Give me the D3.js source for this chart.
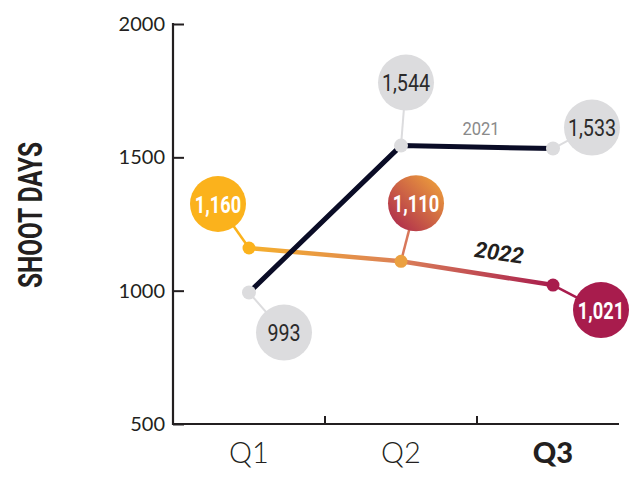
<!DOCTYPE html>
<html>
<head>
<meta charset="utf-8">
<script src="https://cdn.jsdelivr.net/npm/d3@7"></script>
<style>
  body { margin: 0; background: #fff; }
  svg { display: block; }
</style>
</head>
<body>
<div id="chart"></div>
<script>
// Shoot days per quarter, 2021 vs 2022

const quarters = ["Q1", "Q2", "Q3"];
const values2021 = [993, 1544, 1533];
const values2022 = [1160, 1110, 1021];
const yTicks = [500, 1000, 1500, 2000];

// bubble placement relative to its point (px)
const offsets2021 = [[35, 40], [5, -63], [39, -21]];
const offsets2022 = [[-31, -44], [15, -58], [48, 25]];

const W = 637, H = 477;
const margin = {top: 24, right: 8, bottom: 53, left: 173},
    width = W - margin.left - margin.right,
    height = H - margin.top - margin.bottom;

const svg = d3.select("#chart")
    .append("svg")
        .attr("width", W)
        .attr("height", H)
    .append("g")
        .attr("transform", `translate(${margin.left}, ${margin.top})`);

const defs = svg.append("defs");

const x = d3.scaleBand()
    .domain(quarters)
    .range([0, 456])
    .padding(0);
const cx = q => x(q) + x.bandwidth() / 2;

const y = d3.scaleLinear()
    .domain([500, 2000])
    .range([height, 0]);

const orange = "#fbb21c", crimson = "#a81c4d", grey = "#dcdcde", navy = "#0a0c26";
const font = "Roboto, 'Noto Sans', sans-serif";

// no condensed face installed: squeeze the glyphs instead
function condense(sel, k) {
    sel.each(function() {
        const len = this.getComputedTextLength();
        d3.select(this)
            .attr("textLength", len * k)
            .attr("lengthAdjust", "spacingAndGlyphs");
    });
}

// gradient along the 2022 line
const g22 = defs.append("linearGradient")
    .attr("id", "grad22")
    .attr("gradientUnits", "userSpaceOnUse")
    .attr("x1", cx("Q1")).attr("x2", cx("Q3"))
    .attr("y1", 0).attr("y2", 0);
g22.append("stop").attr("offset", "0%").attr("stop-color", "#f6b02c");
g22.append("stop").attr("offset", "50%").attr("stop-color", "#db8058");
g22.append("stop").attr("offset", "100%").attr("stop-color", crimson);

// gradient for the middle bubble
const gb = defs.append("linearGradient")
    .attr("id", "gradBubble")
    .attr("x1", "100%").attr("y1", "0%")
    .attr("x2", "0%").attr("y2", "100%");
gb.append("stop").attr("offset", "0%").attr("stop-color", "#f3a93a");
gb.append("stop").attr("offset", "100%").attr("stop-color", "#a8204f");

// Y axis
const yAxis = svg.append("g")
    .call(d3.axisLeft(y).tickValues(yTicks).tickSize(-11).tickPadding(8).tickFormat(d3.format("d")));
yAxis.select(".domain").remove();
yAxis.selectAll(".tick line").attr("stroke", "#231f20").attr("stroke-width", 2);
yAxis.selectAll("text")
    .style("font-family", "Lato, sans-serif")
    .style("font-size", "20px")
    .attr("fill", "#231f20");
svg.append("line")
    .attr("x1", 0).attr("x2", 0)
    .attr("y1", y(2000) - 1).attr("y2", height + 1)
    .attr("stroke", "#231f20").attr("stroke-width", 2.2);

// X axis
svg.append("line")
    .attr("x1", 0).attr("x2", 446)
    .attr("y1", height).attr("y2", height)
    .attr("stroke", "#231f20").attr("stroke-width", 2.2);
svg.selectAll(".xsep")
    .data(quarters.slice(1))
    .join("line")
        .attr("x1", d => x(d)).attr("x2", d => x(d))
        .attr("y1", height).attr("y2", height - 8)
        .attr("stroke", "#231f20").attr("stroke-width", 2);
svg.selectAll(".xlab")
    .data(quarters)
    .join("text")
        .attr("x", d => cx(d))
        .attr("y", height + 39)
        .attr("text-anchor", "middle")
        .style("font-family", "Lato, sans-serif")
        .style("font-size", "29px")
        .style("font-weight", d => d === "Q3" ? 900 : 300)
        .attr("fill", "#231f20")
        .text(d => d);

// Y axis label
svg.append("text")
    .attr("transform", `translate(${-131}, ${height / 2 - 9}) rotate(-90)`)
    .attr("text-anchor", "middle")
    .style("font-family", font)
    .style("font-size", "33px")
    .style("font-weight", 700)
    .attr("fill", "#231f20")
    .text("SHOOT DAYS")
    .call(condense, 0.74);

const pts21 = quarters.map((q, i) => ({q, v: values2021[i], o: offsets2021[i]}));
const pts22 = quarters.map((q, i) => ({q, v: values2022[i], o: offsets2022[i]}));

const line = d3.line().x(d => cx(d.q)).y(d => y(d.v));

// connectors (under everything)
svg.selectAll(".c21")
    .data(pts21)
    .join("line")
        .attr("x1", d => cx(d.q)).attr("y1", d => y(d.v))
        .attr("x2", d => cx(d.q) + d.o[0]).attr("y2", d => y(d.v) + d.o[1])
        .attr("stroke", grey).attr("stroke-width", 2);
const c22colors = [orange, "#d8775a", crimson];
svg.selectAll(".c22")
    .data(pts22)
    .join("line")
        .attr("x1", d => cx(d.q)).attr("y1", d => y(d.v))
        .attr("x2", d => cx(d.q) + d.o[0]).attr("y2", d => y(d.v) + d.o[1])
        .attr("stroke", (d, i) => c22colors[i]).attr("stroke-width", 2.5);

// 2022 line
svg.append("path")
    .datum(pts22)
    .attr("d", line)
    .attr("fill", "none")
    .attr("stroke", "url(#grad22)")
    .attr("stroke-width", 4.5);

// 2021 line
svg.append("path")
    .datum(pts21)
    .attr("d", line)
    .attr("fill", "none")
    .attr("stroke", navy)
    .attr("stroke-width", 5);

// dots
svg.selectAll(".d21")
    .data(pts21)
    .join("circle")
        .attr("cx", d => cx(d.q)).attr("cy", d => y(d.v))
        .attr("r", 7)
        .attr("fill", grey);
const d22colors = [orange, "#eba040", crimson];
svg.selectAll(".d22")
    .data(pts22)
    .join("circle")
        .attr("cx", d => cx(d.q)).attr("cy", d => y(d.v))
        .attr("r", 6.5)
        .attr("fill", (d, i) => d22colors[i]);

// bubbles
const fmt = d3.format(",");
svg.selectAll(".b21")
    .data(pts21)
    .join("circle")
        .attr("cx", d => cx(d.q) + d.o[0]).attr("cy", d => y(d.v) + d.o[1])
        .attr("r", 28)
        .attr("fill", grey);
svg.selectAll(".t21")
    .data(pts21)
    .join("text")
        .attr("x", d => cx(d.q) + d.o[0]).attr("y", d => y(d.v) + d.o[1] + 8.5)
        .attr("text-anchor", "middle")
        .style("font-family", font)
        .style("font-size", "24px")
        .attr("fill", "#2b2b2b")
        .text(d => fmt(d.v))
        .call(condense, 0.82);

const b22fill = [orange, "url(#gradBubble)", crimson];
svg.selectAll(".b22")
    .data(pts22)
    .join("circle")
        .attr("cx", d => cx(d.q) + d.o[0]).attr("cy", d => y(d.v) + d.o[1])
        .attr("r", 28)
        .attr("fill", (d, i) => b22fill[i]);
svg.selectAll(".t22")
    .data(pts22)
    .join("text")
        .attr("x", d => cx(d.q) + d.o[0]).attr("y", d => y(d.v) + d.o[1] + 8.5)
        .attr("text-anchor", "middle")
        .style("font-family", font)
        .style("font-size", "24px")
        .style("font-weight", 700)
        .attr("fill", "#fff")
        .text(d => fmt(d.v))
        .call(condense, 0.76);

// series labels
svg.append("text")
    .attr("x", (cx("Q2") + cx("Q3")) / 2 + 4)
    .attr("y", y(1544) - 11)
    .attr("text-anchor", "middle")
    .style("font-family", font)
    .style("font-size", "18px")
    .attr("fill", "#8a8a8a")
    .text("2021")
    .call(condense, 0.92);

svg.append("text")
    .attr("transform", `translate(${(cx("Q2") + cx("Q3")) / 2 + 21}, ${y((values2022[1] + values2022[2]) / 2) - 13}) rotate(8)`)
    .attr("text-anchor", "middle")
    .style("font-family", font)
    .style("font-size", "22px")
    .style("font-weight", 700)
    .style("font-style", "italic")
    .attr("fill", "#231f20")
    .text("2022");
</script>
</body>
</html>
